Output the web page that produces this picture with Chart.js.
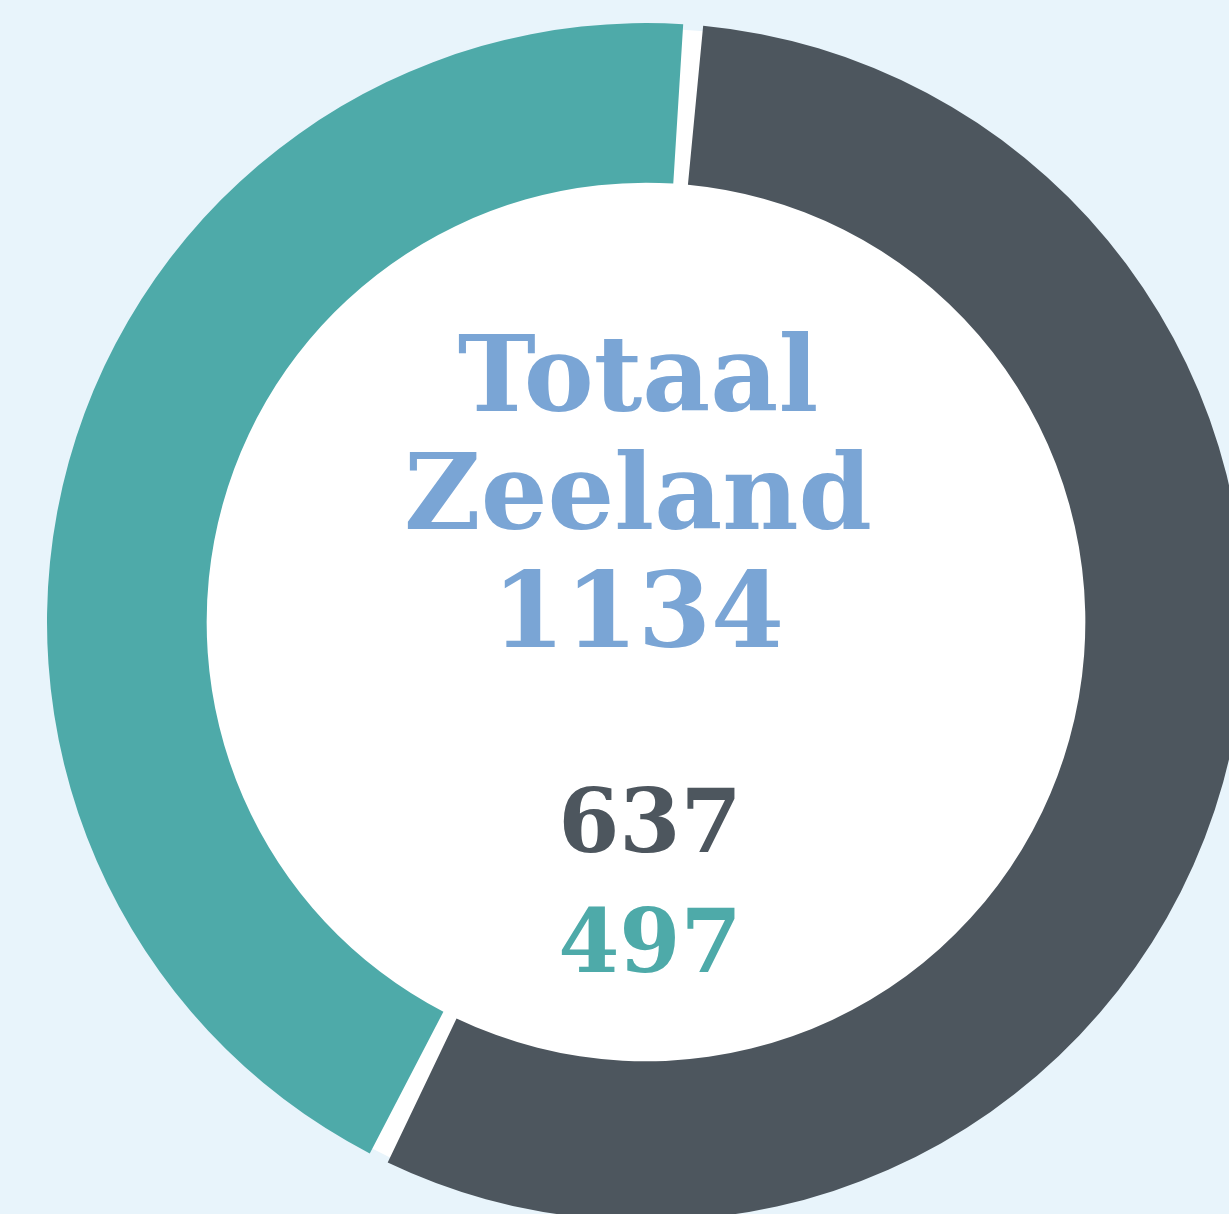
<!DOCTYPE html>
<html>
<head>
<meta charset="utf-8">
<script src="https://cdn.jsdelivr.net/npm/chart.js@4"></script>
<style>
  html, body { margin: 0; padding: 0; background: #e8f4fb; overflow: hidden; width: 1229px; height: 1214px; }
  .wrap { position: absolute; left: 0; top: 0; width: 1292px; height: 1244px; }
  .center { position: absolute; left: 0; width: 1276px; text-align: center; font-family: "DejaVu Serif", serif; font-weight: bold; }
  .title { top: 315px; font-size: 105px; line-height: 118px; color: #7aa5d5; }
  .nums { top: 761px; font-size: 88px; line-height: 120px; left: 12px; }
</style>
</head>
<body>
<div class="wrap"><canvas id="donut"></canvas></div>
<div class="center title" id="title"></div>
<div class="center nums" id="nums"></div>
<script>
const labels = ['637', '497'];
const values = [637, 497];
const colors = ['#4d565e', '#4eaaa9'];
const titleLines = ['Totaal', 'Zeeland'];

const total = values.reduce((a, b) => a + b, 0);
document.getElementById('title').innerHTML = titleLines.concat([String(total)]).join('<br>');
document.getElementById('nums').innerHTML = values
  .map((v, i) => '<span style="color:' + colors[i] + '">' + v + '</span>')
  .join('<br>');

// white disk behind the ring so the gaps between slices show white
const whiteDisk = {
  id: 'whiteDisk',
  beforeDatasetsDraw(chart) {
    const arc = chart.getDatasetMeta(0).data[0];
    if (!arc) return;
    const ctx = chart.ctx;
    ctx.save();
    ctx.fillStyle = '#ffffff';
    ctx.beginPath();
    ctx.arc(arc.x, arc.y, arc.outerRadius, 0, Math.PI * 2);
    ctx.fill();
    ctx.restore();
  }
};

new Chart(document.getElementById('donut').getContext('2d'), {
  type: 'doughnut',
  data: {
    labels: labels,
    datasets: [{
      data: values,
      backgroundColor: colors,
      borderWidth: 0,
      spacing: 11,
    }],
  },
  options: {
    responsive: true,
    maintainAspectRatio: false,
    animation: false,
    cutout: '73.1%',
    rotation: 4.4,
    layout: { padding: 23 },
    plugins: {
      legend: { display: false },
      tooltip: { enabled: false },
    },
  },
  plugins: [whiteDisk],
});
</script>
</body>
</html>
